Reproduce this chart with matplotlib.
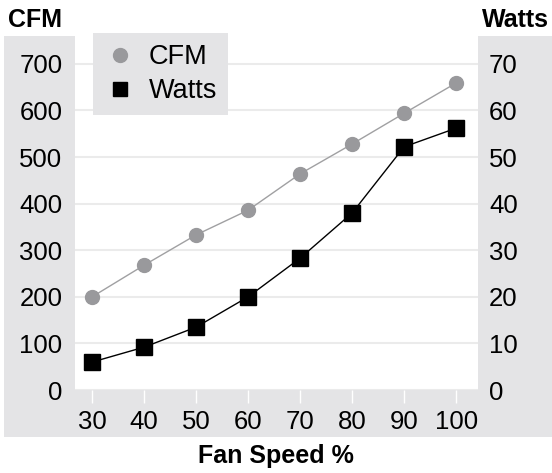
import matplotlib.pyplot as plt
from matplotlib.patches import Rectangle
from matplotlib.lines import Line2D

plt.rcParams['font.family'] = ['Liberation Sans', 'DejaVu Sans']

fan_speed = [30, 40, 50, 60, 70, 80, 90, 100]
cfm = [200, 268, 333, 386, 464, 528, 594, 659]
watts = [6.0, 9.2, 13.5, 20.0, 28.3, 38.0, 52.2, 56.2]
cfm_ticks = [0, 100, 200, 300, 400, 500, 600, 700]
watt_ticks = [0, 10, 20, 30, 40, 50, 60, 70]

W, H = 552, 473
bg = '#e4e4e6'

fig = plt.figure(figsize=(W / 100, H / 100), dpi=100)
fig.patches.append(Rectangle((4 / W, (H - 437) / H), 1 - 4 / W, (437 - 36) / H,
                             transform=fig.transFigure, facecolor=bg,
                             edgecolor='none', zorder=-5))

ax = fig.add_axes([75 / W, (H - 390) / H, 403 / W, (390 - 28) / H])
ax.set_facecolor('white')
ax.set_xlim(26.7, 104.2)
ax.set_ylim(0, 777)
ax.set_yticks(cfm_ticks)
ax.set_xticks(fan_speed)
for s in ax.spines.values():
    s.set_visible(False)
ax.grid(axis='y', color='#ebebeb', linewidth=1.5)
ax.set_axisbelow(True)
ax.tick_params(axis='y', length=0, pad=9, labelsize=18.5)
ax.tick_params(axis='x', length=9.5, width=1, color='white', pad=5, labelsize=18.5)

ax.plot(fan_speed, cfm, color='#a0a0a2', lw=1, marker='o', ms=10,
        mfc='#99999c', mec='#99999c')

ax2 = ax.twinx()
ax2.set_ylim(0, 77.7)
ax2.set_yticks(watt_ticks)
for s in ax2.spines.values():
    s.set_visible(False)
ax2.tick_params(axis='y', length=0, pad=8, labelsize=18.5)
ax2.plot(fan_speed, watts, color='black', lw=1, marker='s', ms=11)

h1 = Line2D([], [], ls='none', marker='o', ms=10, mfc='#99999c', mec='#99999c')
h2 = Line2D([], [], ls='none', marker='s', ms=10, mfc='black', mec='black')
leg = ax2.legend(handles=[h1, h2], labels=['CFM', 'Watts'], loc='upper left',
                 bbox_to_anchor=(0.045, 0.985), frameon=True, fancybox=False,
                 fontsize=19.5, handlelength=1.2, handletextpad=0.45,
                 borderpad=0.4, labelspacing=0.3, borderaxespad=0)
leg.get_frame().set_facecolor(bg)
leg.get_frame().set_edgecolor('none')
leg.get_frame().set_alpha(1)

fig.text(8 / W, 1 - 20 / H, 'CFM', fontsize=18, fontweight='bold', va='center', ha='left')
fig.text(549 / W, 1 - 20 / H, 'Watts', fontsize=18, fontweight='bold', va='center', ha='right')
fig.text(276 / W, 1 - 456 / H, 'Fan Speed %', fontsize=18, fontweight='bold',
         va='center', ha='center')

fig.savefig('out.png', dpi=100)
